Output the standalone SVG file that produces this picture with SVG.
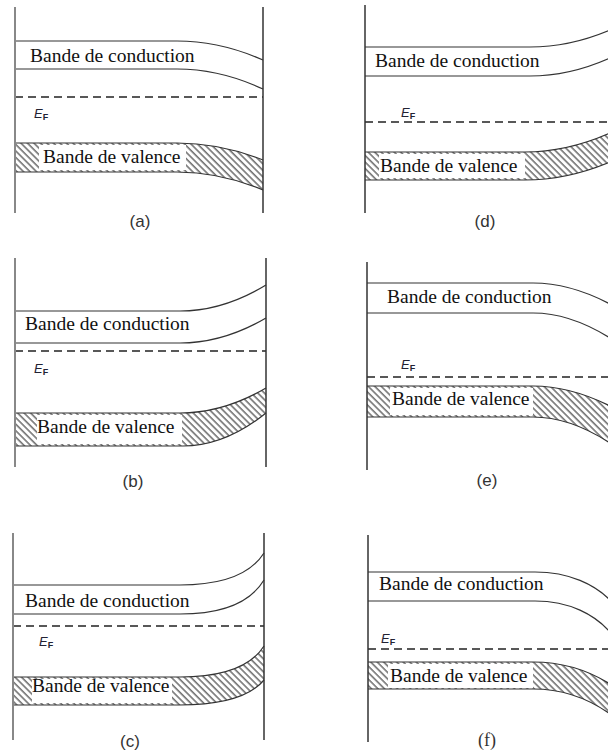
<svg xmlns="http://www.w3.org/2000/svg" width="608" height="751" viewBox="0 0 608 751">
<defs>
<pattern id="hatch" patternUnits="userSpaceOnUse" width="4.6" height="4.6" patternTransform="rotate(-45)">
<line x1="1" y1="0" x2="1" y2="4.6" stroke="#333" stroke-width="1.1"/>
</pattern>
</defs>
<style>
.axl{stroke:#888;stroke-width:2;fill:none}
.ax{stroke:#333;stroke-width:1.5;fill:none}
.edge{stroke:#333;stroke-width:1.2;fill:none}
.ef{stroke:#222;stroke-width:1.3;stroke-dasharray:8 5;fill:none}
.band{fill:url(#hatch);stroke:none}
.box{fill:#fff}
.bt{font-family:"Liberation Serif",serif;font-size:19.5px;fill:#111}
.e{font-family:"Liberation Sans",sans-serif;font-size:13px;font-style:italic;fill:#223}
.es{font-size:9px;font-style:normal;font-weight:bold}
.lab{font-family:"Liberation Sans",sans-serif;font-size:17px;fill:#333;text-anchor:middle}
.labs{font-family:"Liberation Serif",serif;font-size:18px;fill:#333;text-anchor:middle}
</style>
<rect width="608" height="751" fill="#fff"/>

<g id="panel-a">
<path class="band" d="M15,143 H177 Q220,143 263,160 V190 Q220,172 177,172 H15 Z"/>
<rect class="box" x="39" y="145" width="147" height="25"/>
<path class="edge" d="M15,41 H177 Q220,41 263,60"/>
<path class="edge" d="M15,69 H177 Q220,69 263,89"/>
<path class="edge" d="M15,143 H177 Q220,143 263,160"/>
<path class="edge" d="M15,172 H177 Q220,172 263,190"/>
<line class="ef" x1="15" y1="97" x2="263" y2="97"/>
<line class="axl" x1="15" y1="7" x2="15" y2="213"/>
<line class="ax" x1="263" y1="7" x2="263" y2="213"/>
<text class="bt" x="30" y="62">Bande de conduction</text>
<text class="bt" x="43" y="163">Bande de valence</text>
<text class="e" x="34" y="118">E<tspan class="es" dy="2">F</tspan></text>
<text class="lab" x="140" y="227">(a)</text>
</g>

<g id="panel-d">
<path class="band" d="M365,152 H525 Q567,152 610,133 V162 Q567,180 525,180 H365 Z"/>
<rect class="box" x="379" y="154" width="146" height="24"/>
<path class="edge" d="M365,47 H530 Q570,47 610,30"/>
<path class="edge" d="M365,76 H530 Q570,76 610,58"/>
<path class="edge" d="M365,152 H525 Q567,152 610,133"/>
<path class="edge" d="M365,180 H525 Q567,180 610,162"/>
<line class="ef" x1="365" y1="122" x2="608" y2="122"/>
<line class="ax" x1="365" y1="5" x2="365" y2="213"/>
<text class="bt" x="375" y="67">Bande de conduction</text>
<text class="bt" x="380" y="172">Bande de valence</text>
<text class="e" x="401" y="117">E<tspan class="es" dy="2">F</tspan></text>
<text class="lab" x="485" y="227">(d)</text>
</g>

<g id="panel-b">
<path class="band" d="M15,413 H180 Q223,413 266,388 V413 Q225,446 183,446 H15 Z"/>
<rect class="box" x="37" y="415" width="145" height="29"/>
<path class="edge" d="M15,311 H180 Q223,311 266,285"/>
<path class="edge" d="M15,343 H180 Q223,343 266,318"/>
<path class="edge" d="M15,413 H180 Q223,413 266,388"/>
<path class="edge" d="M15,446 H183 Q225,446 266,413"/>
<line class="ef" x1="15" y1="351" x2="266" y2="351"/>
<line class="axl" x1="15" y1="258" x2="15" y2="467"/>
<line class="ax" x1="266" y1="258" x2="266" y2="467"/>
<text class="bt" x="25" y="330">Bande de conduction</text>
<text class="bt" x="37" y="433">Bande de valence</text>
<text class="e" x="34" y="373">E<tspan class="es" dy="2">F</tspan></text>
<text class="lab" x="133" y="487">(b)</text>
</g>

<g id="panel-e">
<path class="band" d="M367,386 H533 Q570,386 610,406 V443 Q570,417 533,417 H367 Z"/>
<rect class="box" x="390" y="388" width="143" height="27"/>
<path class="edge" d="M367,283 H533 Q570,283 610,304"/>
<path class="edge" d="M367,313 H533 Q570,313 610,338"/>
<path class="edge" d="M367,386 H533 Q570,386 610,406"/>
<path class="edge" d="M367,417 H533 Q570,417 610,443"/>
<line class="ef" x1="367" y1="377" x2="608" y2="377"/>
<line class="ax" x1="367" y1="262" x2="367" y2="470"/>
<text class="bt" x="387" y="303">Bande de conduction</text>
<text class="bt" x="392" y="405">Bande de valence</text>
<text class="e" x="401" y="369">E<tspan class="es" dy="2">F</tspan></text>
<text class="lab" x="487" y="486">(e)</text>
</g>

<g id="panel-c">
<path class="band" d="M13,677 H180 C220,677 250,668 264,646 V680 C250,697 220,705 180,705 H13 Z"/>
<rect class="box" x="32" y="679" width="140" height="24"/>
<path class="edge" d="M13,585 H180 C220,585 250,575 264,553"/>
<path class="edge" d="M13,614 H180 C220,614 250,603 264,580"/>
<path class="edge" d="M13,677 H180 C220,677 250,668 264,646"/>
<path class="edge" d="M13,705 H180 C220,705 250,697 264,680"/>
<line class="ef" x1="13" y1="626" x2="264" y2="626"/>
<line class="axl" x1="13" y1="533" x2="13" y2="740"/>
<line class="ax" x1="264" y1="533" x2="264" y2="740"/>
<text class="bt" x="25" y="607">Bande de conduction</text>
<text class="bt" x="32" y="692">Bande de valence</text>
<text class="e" x="39" y="646">E<tspan class="es" dy="2">F</tspan></text>
<text class="lab" x="130" y="747">(c)</text>
</g>

<g id="panel-f">
<path class="band" d="M368,662 H533 Q575,662 610,684 V714 Q575,689 533,689 H368 Z"/>
<rect class="box" x="388" y="664" width="145" height="24"/>
<path class="edge" d="M368,572 H535 C570,572 595,585 610,600"/>
<path class="edge" d="M368,601 H535 C570,601 595,615 610,632"/>
<path class="edge" d="M368,662 H533 Q575,662 610,684"/>
<path class="edge" d="M368,689 H533 Q575,689 610,714"/>
<line class="ef" x1="368" y1="649" x2="608" y2="649"/>
<line class="ax" x1="368" y1="535" x2="368" y2="742"/>
<text class="bt" x="379" y="590">Bande de conduction</text>
<text class="bt" x="390" y="682">Bande de valence</text>
<text class="e" x="381" y="643">E<tspan class="es" dy="2">F</tspan></text>
<text class="labs" x="487" y="746">(f)</text>
</g>
</svg>
